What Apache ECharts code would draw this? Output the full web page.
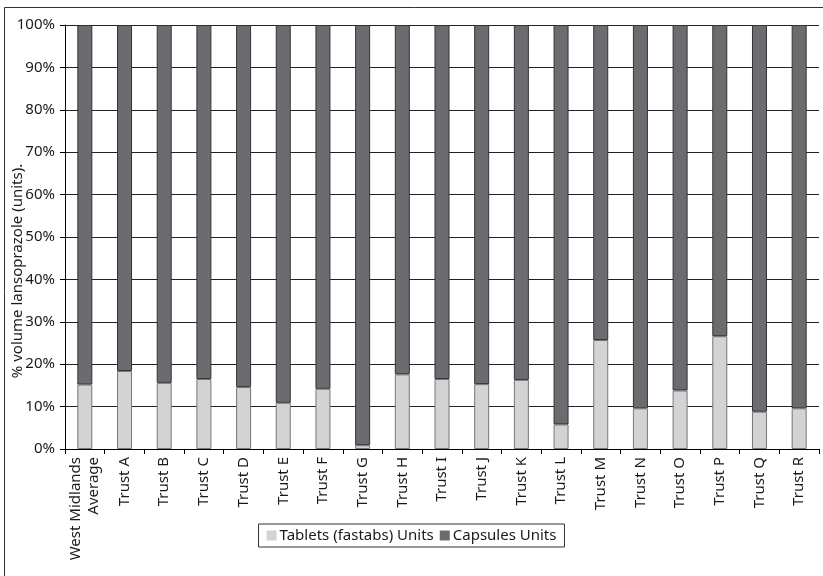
<!DOCTYPE html>
<html><head><meta charset="utf-8">
<script src="https://cdn.jsdelivr.net/npm/echarts@6/dist/echarts.min.js"></script>
<style>html,body{margin:0;padding:0;background:#fff}#c{width:823px;height:576px}</style>
</head><body><div id="c"></div>
<script>
const categories = ['West Midlands\nAverage','Trust A','Trust B','Trust C','Trust D','Trust E','Trust F','Trust G','Trust H','Trust I','Trust J','Trust K','Trust L','Trust M','Trust N','Trust O','Trust P','Trust Q','Trust R'];
const tablets = [15.2,18.4,15.6,16.5,14.6,10.9,14.2,0.9,17.6,16.5,15.3,16.3,5.8,25.7,9.6,13.8,26.6,8.8,9.6];
const capsules = tablets.map(v => +(100 - v).toFixed(1));
const yTicks = [0,10,20,30,40,50,60,70,80,90,100];
const seriesNames = ['Tablets (fastabs) Units','Capsules Units'];

const chart = echarts.init(document.getElementById('c'));
const font = 'Noto Sans';
chart.setOption({
  animation:false,
  textStyle:{fontFamily:font,color:'#222'},
  graphic:[{type:'rect',shape:{x:4.5,y:7.5,width:840,height:600},style:{fill:'none',stroke:'#333',lineWidth:1},z:-1}],
  grid:{left:65,right:4,top:25,bottom:127,containLabel:false,outerBoundsMode:'none'},
  legend:{
    data:seriesNames, bottom:29, left:'center',
    itemWidth:10,itemHeight:10,itemGap:6,
    icon:'rect',
    itemStyle:{borderWidth:0},
    borderColor:'#333',borderWidth:1,padding:[4,8,4,8],
    textStyle:{fontFamily:font,fontSize:15,color:'#1a1a1a',padding:[0,0,0,-2]}
  },
  xAxis:{
    type:'category',data:categories,
    axisLine:{lineStyle:{color:'#000',width:1}},
    axisTick:{show:true,length:5,lineStyle:{color:'#000'}},
    axisLabel:{rotate:90,fontSize:15,color:'#1a1a1a',fontFamily:font,margin:8,interval:0,lineHeight:18}
  },
  yAxis:{
    type:'value',min:0,max:100,interval:10,
    name:'% volume lansoprazole (units).',nameLocation:'middle',nameGap:40,nameMoveOverlap:false,
    nameTextStyle:{fontSize:15,color:'#1a1a1a',fontFamily:font,padding:[0,68,0,0]},
    axisLine:{show:true,lineStyle:{color:'#000'}},
    axisTick:{show:true,length:5,lineStyle:{color:'#000'}},
    axisLabel:{formatter:v=>v+'%',fontSize:15,color:'#1a1a1a',fontFamily:font,margin:10},
    splitLine:{lineStyle:{color:'#222',width:1}}
  },
  series:[
    {name:seriesNames[0],type:'bar',stack:'s',data:tablets,barWidth:15,
     itemStyle:{color:'#d2d3d5',borderColor:'#777',borderWidth:1}},
    {name:seriesNames[1],type:'bar',stack:'s',data:capsules,barWidth:15,
     itemStyle:{color:'#6b6c70',borderColor:'#333',borderWidth:1}}
  ]
});
</script></body></html>
